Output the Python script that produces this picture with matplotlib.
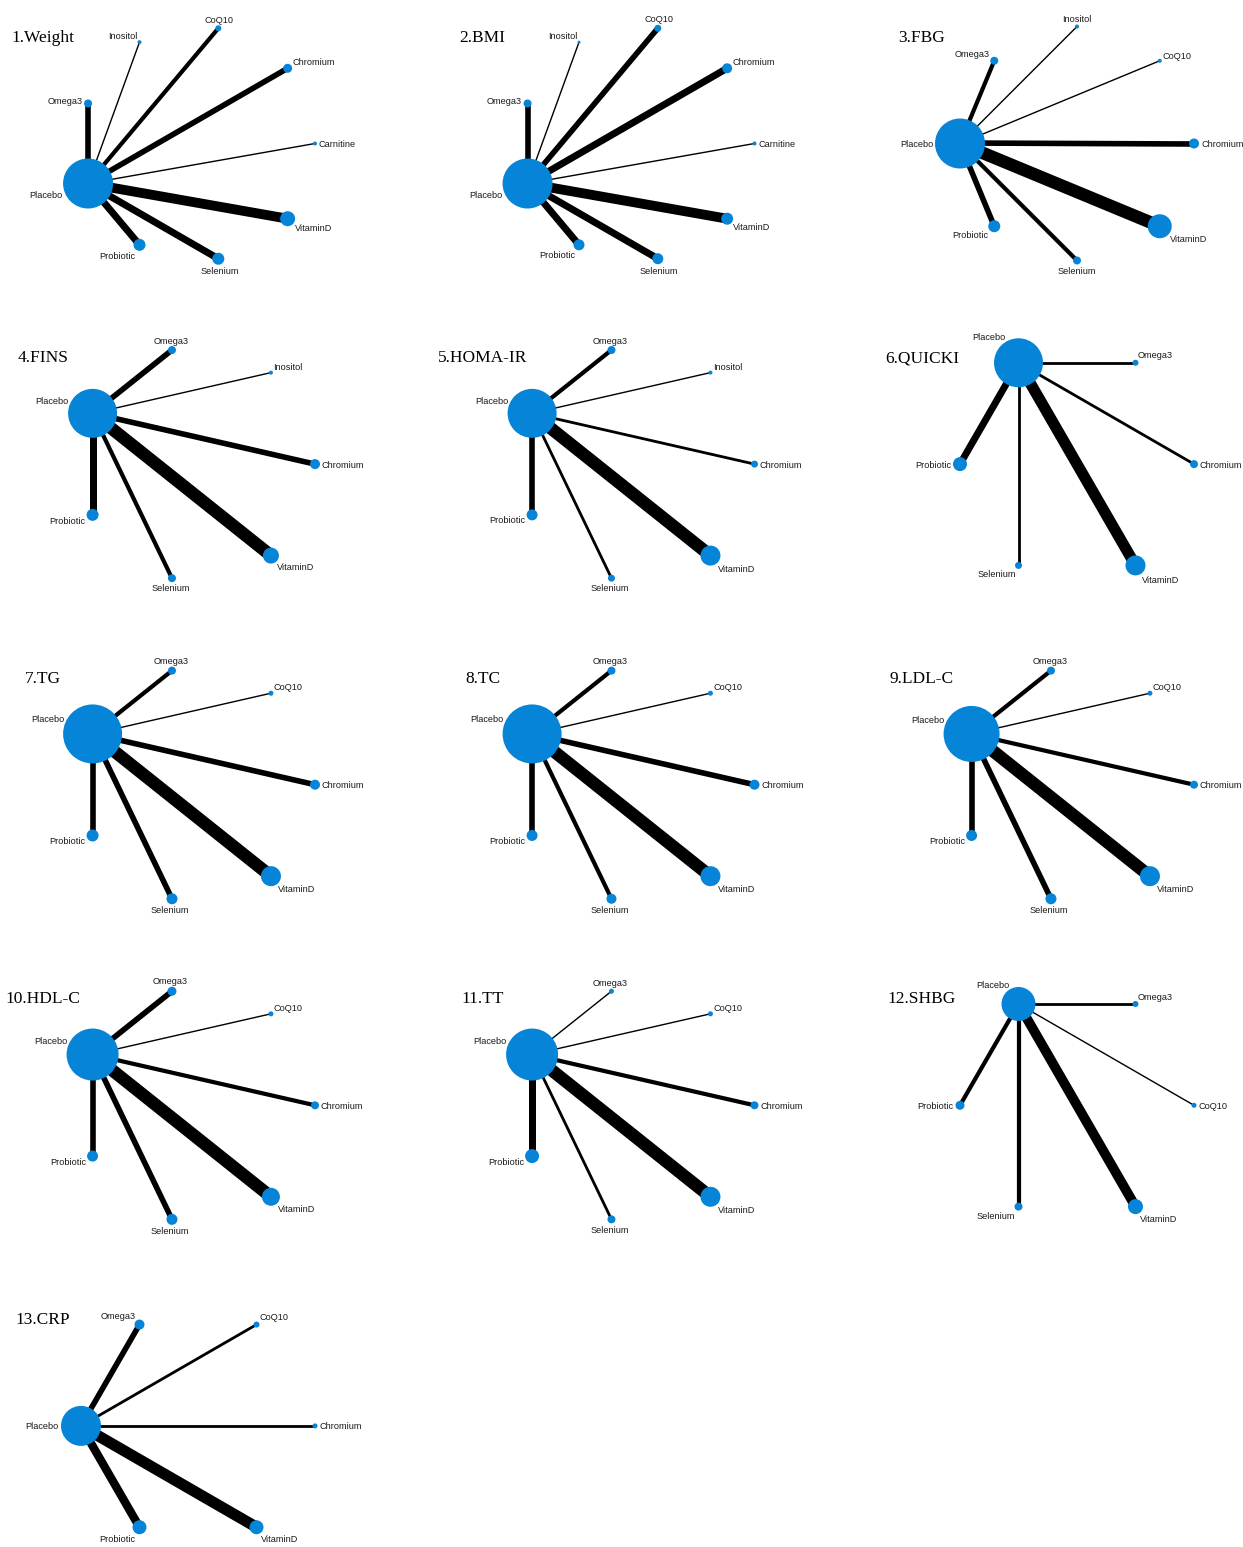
import numpy as np
import matplotlib.pyplot as plt

# treatments in alphabetical order = order round the circle (counter-clockwise from 3 o'clock)
# studies: number of trials against Placebo, node: node weight
weight_trt = ['Carnitine', 'Chromium', 'CoQ10', 'Inositol', 'Omega3', 'Placebo', 'Probiotic', 'Selenium', 'VitaminD']
weight_studies = [1, 4, 3, 1, 4, 0, 5, 5, 7]
weight_node = [2, 4.5, 3, 2, 4, 25, 6, 6, 7.5]

bmi_trt = ['Carnitine', 'Chromium', 'CoQ10', 'Inositol', 'Omega3', 'Placebo', 'Probiotic', 'Selenium', 'VitaminD']
bmi_studies = [1, 5, 4, 1, 4, 0, 5, 5, 7]
bmi_node = [2, 5, 3.5, 1.5, 4, 25, 5.5, 5.5, 6]

fbg_trt = ['Chromium', 'CoQ10', 'Inositol', 'Omega3', 'Placebo', 'Probiotic', 'Selenium', 'VitaminD']
fbg_studies = [4, 1, 1, 3, 0, 4, 3, 9]
fbg_node = [5, 2, 2, 4, 25, 6, 4, 12]

fins_trt = ['Chromium', 'Inositol', 'Omega3', 'Placebo', 'Probiotic', 'Selenium', 'VitaminD']
fins_studies = [4, 1, 4, 0, 5, 3, 9]
fins_node = [5, 2, 4, 24.5, 6, 4, 8]

homa_trt = ['Chromium', 'Inositol', 'Omega3', 'Placebo', 'Probiotic', 'Selenium', 'VitaminD']
homa_studies = [2, 1, 3, 0, 4, 2, 9]
homa_node = [3.5, 2, 4, 24.5, 5.5, 3.5, 10]

quicki_trt = ['Chromium', 'Omega3', 'Placebo', 'Probiotic', 'Selenium', 'VitaminD']
quicki_studies = [2, 2, 0, 5, 2, 8]
quicki_node = [4, 3, 24.5, 7, 3.5, 10]

tg_trt = ['Chromium', 'CoQ10', 'Omega3', 'Placebo', 'Probiotic', 'Selenium', 'VitaminD']
tg_studies = [4, 1, 3, 0, 4, 4, 9]
tg_node = [5, 2.5, 4, 29.5, 6, 5.5, 10]

tc_trt = ['Chromium', 'CoQ10', 'Omega3', 'Placebo', 'Probiotic', 'Selenium', 'VitaminD']
tc_studies = [4, 1, 3, 0, 4, 3, 9]
tc_node = [5, 2.5, 4, 29.5, 5.5, 5, 10]

ldl_trt = ['Chromium', 'CoQ10', 'Omega3', 'Placebo', 'Probiotic', 'Selenium', 'VitaminD']
ldl_studies = [3, 1, 3, 0, 4, 4, 9]
ldl_node = [4, 2.5, 4, 28, 5.5, 5.5, 10]

hdl_trt = ['Chromium', 'CoQ10', 'Omega3', 'Placebo', 'Probiotic', 'Selenium', 'VitaminD']
hdl_studies = [3, 1, 4, 0, 4, 4, 9]
hdl_node = [4, 2.5, 4.5, 26, 5.5, 5.5, 9]

tt_trt = ['Chromium', 'CoQ10', 'Omega3', 'Placebo', 'Probiotic', 'Selenium', 'VitaminD']
tt_studies = [3, 1, 1, 0, 5, 2, 9]
tt_node = [4, 2.5, 2.5, 26, 7, 4, 10]

shbg_trt = ['CoQ10', 'Omega3', 'Placebo', 'Probiotic', 'Selenium', 'VitaminD']
shbg_studies = [1, 2, 0, 3, 3, 7]
shbg_node = [2.5, 3, 17, 4.5, 4, 7.5]

crp_trt = ['Chromium', 'CoQ10', 'Omega3', 'Placebo', 'Probiotic', 'VitaminD']
crp_studies = [2, 2, 4, 0, 6, 8]
crp_node = [2.5, 3, 5, 20, 7, 7]

panels = [
    ('1.Weight', weight_trt, weight_studies, weight_node),
    ('2.BMI', bmi_trt, bmi_studies, bmi_node),
    ('3.FBG', fbg_trt, fbg_studies, fbg_node),
    ('4.FINS', fins_trt, fins_studies, fins_node),
    ('5.HOMA-IR', homa_trt, homa_studies, homa_node),
    ('6.QUICKI', quicki_trt, quicki_studies, quicki_node),
    ('7.TG', tg_trt, tg_studies, tg_node),
    ('8.TC', tc_trt, tc_studies, tc_node),
    ('9.LDL-C', ldl_trt, ldl_studies, ldl_node),
    ('10.HDL-C', hdl_trt, hdl_studies, hdl_node),
    ('11.TT', tt_trt, tt_studies, tt_node),
    ('12.SHBG', shbg_trt, shbg_studies, shbg_node),
    ('13.CRP', crp_trt, crp_studies, crp_node),
]

W, H = 1243, 1547
DPI = 100
PT = 72.0 / DPI          # points per pixel
RADIUS = 117             # layout circle radius, px
NODE_COLOR = '#0684d7'
PX_PER_STUDY = 1.4

fig = plt.figure(figsize=(W / DPI, H / DPI), dpi=DPI)
fig.patch.set_facecolor('white')


def draw_network(ax, title, trt, studies, node):
    n = len(trt)
    ang = np.radians(np.arange(n) * 360.0 / n)
    xs = RADIUS * np.cos(ang)
    ys = RADIUS * np.sin(ang)
    hub = trt.index('Placebo')

    # edges to placebo
    for i in range(n):
        if i == hub:
            continue
        ax.plot([xs[hub], xs[i]], [ys[hub], ys[i]], color='black',
                lw=studies[i] * PX_PER_STUDY * PT, solid_capstyle='butt', zorder=1)

    # nodes
    sizes = [(2 * r * PT) ** 2 for r in node]
    ax.scatter(xs, ys, s=sizes, color=NODE_COLOR, linewidths=0, zorder=2)

    # labels pushed outward from the circle
    for i in range(n):
        c, s = np.cos(ang[i]), np.sin(ang[i])
        if c > 0.3:
            ha = 'left'
        elif c < -0.3:
            ha = 'right'
        else:
            ha = 'center'
        dx = c * (node[i] + 2) * PT
        dy = (s * (node[i] + 6) - 1) * PT
        ax.annotate(trt[i], (xs[i], ys[i]), xytext=(dx, dy), textcoords='offset points',
                    ha=ha, va='center', fontsize=6.6, family='Liberation Sans',
                    color='#1a1a1a', zorder=3)

    ax.text(-155, 106, title, ha='center', va='center', fontsize=12.5,
            family='Liberation Serif', color='black')


aw, ah = 430, 320
for k, (title, trt, studies, node) in enumerate(panels):
    col, row = k % 3, k // 3
    cx = 198 + 439.5 * col
    cy = 143.5 + 320.6 * row
    ax = fig.add_axes([(cx - aw / 2) / W, 1 - (cy + ah / 2) / H, aw / W, ah / H])
    ax.set_xlim(-aw / 2, aw / 2)
    ax.set_ylim(-ah / 2, ah / 2)
    ax.set_aspect('equal')
    ax.axis('off')
    ax.patch.set_alpha(0)
    draw_network(ax, title, trt, studies, node)

fig.savefig('out.png', dpi=DPI)
